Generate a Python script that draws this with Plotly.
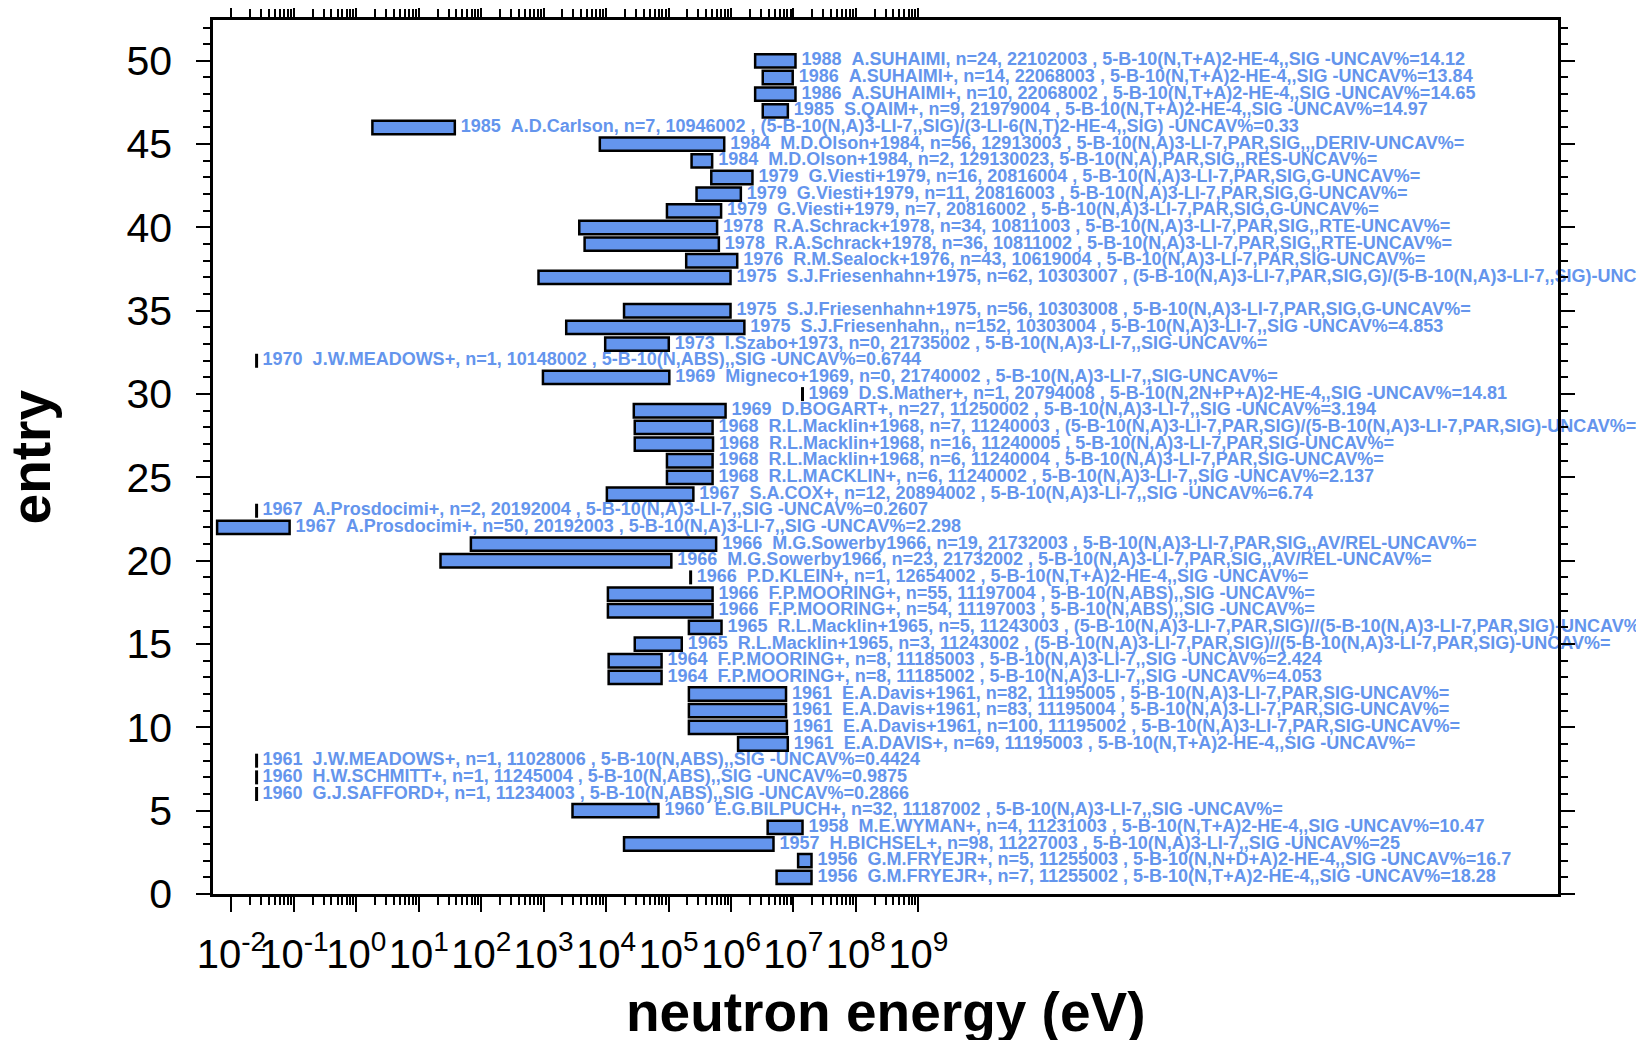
import plotly.graph_objects as go

# ---------------- data ----------------
entries = list(range(50, 0, -1))
entries.remove(36)

e_min = [2.44e6, 3.23e6, 2.44e6, 3.23e6, 1.81, 7.94e3, 2.34e5, 4.84e5, 2.81e5, 9.44e4,
         3.72e3, 4.53e3, 1.92e5, 828.0, 1.94e4, 2.30e3, 9.68e3, 0.0253, 975.0, 1.4e7,
         2.78e4, 2.88e4, 2.88e4, 9.44e4, 9.44e4, 1.03e4, 0.0253, 5.9e-3, 68.4, 22.3,
         2.26e5, 1.07e4, 1.07e4, 2.12e5, 2.88e4, 1.10e4, 1.10e4, 2.12e5, 2.12e5, 2.12e5,
         1.30e6, 0.0253, 0.0253, 0.0253, 2.90e3, 3.87e6, 1.94e4, 1.19e7, 5.38e6]
e_max = [1.08e7, 9.75e6, 1.08e7, 8.15e6, 37.8, 7.80e5, 5.0e5, 2.21e6, 1.44e6, 6.95e5,
         6.0e5, 6.4e5, 1.26e6, 9.84e5, 9.84e5, 1.64e6, 1.01e5, 0.0253, 1.03e5, 1.4e7,
         8.2e5, 5.08e5, 5.16e5, 5.08e5, 5.08e5, 2.5e5, 0.0253, 0.0855, 5.79e5, 1.11e5,
         2.26e5, 5.08e5, 5.08e5, 7.06e5, 1.63e5, 7.74e4, 7.74e4, 7.62e6, 7.62e6, 7.87e6,
         8.13e6, 0.0253, 0.0253, 0.0253, 6.9e4, 1.4e7, 4.8e6, 1.95e7, 1.95e7]

labels = [
    "1988  A.SUHAIMI, n=24, 22102003 , 5-B-10(N,T+A)2-HE-4,,SIG -UNCAV%=14.12",
    "1986  A.SUHAIMI+, n=14, 22068003 , 5-B-10(N,T+A)2-HE-4,,SIG -UNCAV%=13.84",
    "1986  A.SUHAIMI+, n=10, 22068002 , 5-B-10(N,T+A)2-HE-4,,SIG -UNCAV%=14.65",
    "1985  S.QAIM+, n=9, 21979004 , 5-B-10(N,T+A)2-HE-4,,SIG -UNCAV%=14.97",
    "1985  A.D.Carlson, n=7, 10946002 , (5-B-10(N,A)3-LI-7,,SIG)/(3-LI-6(N,T)2-HE-4,,SIG) -UNCAV%=0.33",
    "1984  M.D.Olson+1984, n=56, 12913003 , 5-B-10(N,A)3-LI-7,PAR,SIG,,,DERIV-UNCAV%=",
    "1984  M.D.Olson+1984, n=2, 129130023, 5-B-10(N,A),PAR,SIG,,RES-UNCAV%=",
    "1979  G.Viesti+1979, n=16, 20816004 , 5-B-10(N,A)3-LI-7,PAR,SIG,G-UNCAV%=",
    "1979  G.Viesti+1979, n=11, 20816003 , 5-B-10(N,A)3-LI-7,PAR,SIG,G-UNCAV%=",
    "1979  G.Viesti+1979, n=7, 20816002 , 5-B-10(N,A)3-LI-7,PAR,SIG,G-UNCAV%=",
    "1978  R.A.Schrack+1978, n=34, 10811003 , 5-B-10(N,A)3-LI-7,PAR,SIG,,RTE-UNCAV%=",
    "1978  R.A.Schrack+1978, n=36, 10811002 , 5-B-10(N,A)3-LI-7,PAR,SIG,,RTE-UNCAV%=",
    "1976  R.M.Sealock+1976, n=43, 10619004 , 5-B-10(N,A)3-LI-7,PAR,SIG-UNCAV%=",
    "1975  S.J.Friesenhahn+1975, n=62, 10303007 , (5-B-10(N,A)3-LI-7,PAR,SIG,G)/(5-B-10(N,A)3-LI-7,,SIG)-UNCAV%=",
    "1975  S.J.Friesenhahn+1975, n=56, 10303008 , 5-B-10(N,A)3-LI-7,PAR,SIG,G-UNCAV%=",
    "1975  S.J.Friesenhahn,, n=152, 10303004 , 5-B-10(N,A)3-LI-7,,SIG -UNCAV%=4.853",
    "1973  I.Szabo+1973, n=0, 21735002 , 5-B-10(N,A)3-LI-7,,SIG-UNCAV%=",
    "1970  J.W.MEADOWS+, n=1, 10148002 , 5-B-10(N,ABS),,SIG -UNCAV%=0.6744",
    "1969  Migneco+1969, n=0, 21740002 , 5-B-10(N,A)3-LI-7,,SIG-UNCAV%=",
    "1969  D.S.Mather+, n=1, 20794008 , 5-B-10(N,2N+P+A)2-HE-4,,SIG -UNCAV%=14.81",
    "1969  D.BOGART+, n=27, 11250002 , 5-B-10(N,A)3-LI-7,,SIG -UNCAV%=3.194",
    "1968  R.L.Macklin+1968, n=7, 11240003 , (5-B-10(N,A)3-LI-7,PAR,SIG)/(5-B-10(N,A)3-LI-7,PAR,SIG)-UNCAV%=",
    "1968  R.L.Macklin+1968, n=16, 11240005 , 5-B-10(N,A)3-LI-7,PAR,SIG-UNCAV%=",
    "1968  R.L.Macklin+1968, n=6, 11240004 , 5-B-10(N,A)3-LI-7,PAR,SIG-UNCAV%=",
    "1968  R.L.MACKLIN+, n=6, 11240002 , 5-B-10(N,A)3-LI-7,,SIG -UNCAV%=2.137",
    "1967  S.A.COX+, n=12, 20894002 , 5-B-10(N,A)3-LI-7,,SIG -UNCAV%=6.74",
    "1967  A.Prosdocimi+, n=2, 20192004 , 5-B-10(N,A)3-LI-7,,SIG -UNCAV%=0.2607",
    "1967  A.Prosdocimi+, n=50, 20192003 , 5-B-10(N,A)3-LI-7,,SIG -UNCAV%=2.298",
    "1966  M.G.Sowerby1966, n=19, 21732003 , 5-B-10(N,A)3-LI-7,PAR,SIG,,AV/REL-UNCAV%=",
    "1966  M.G.Sowerby1966, n=23, 21732002 , 5-B-10(N,A)3-LI-7,PAR,SIG,,AV/REL-UNCAV%=",
    "1966  P.D.KLEIN+, n=1, 12654002 , 5-B-10(N,T+A)2-HE-4,,SIG -UNCAV%=",
    "1966  F.P.MOORING+, n=55, 11197004 , 5-B-10(N,ABS),,SIG -UNCAV%=",
    "1966  F.P.MOORING+, n=54, 11197003 , 5-B-10(N,ABS),,SIG -UNCAV%=",
    "1965  R.L.Macklin+1965, n=5, 11243003 , (5-B-10(N,A)3-LI-7,PAR,SIG)//(5-B-10(N,A)3-LI-7,PAR,SIG)-UNCAV%=",
    "1965  R.L.Macklin+1965, n=3, 11243002 , (5-B-10(N,A)3-LI-7,PAR,SIG)//(5-B-10(N,A)3-LI-7,PAR,SIG)-UNCAV%=",
    "1964  F.P.MOORING+, n=8, 11185003 , 5-B-10(N,A)3-LI-7,,SIG -UNCAV%=2.424",
    "1964  F.P.MOORING+, n=8, 11185002 , 5-B-10(N,A)3-LI-7,,SIG -UNCAV%=4.053",
    "1961  E.A.Davis+1961, n=82, 11195005 , 5-B-10(N,A)3-LI-7,PAR,SIG-UNCAV%=",
    "1961  E.A.Davis+1961, n=83, 11195004 , 5-B-10(N,A)3-LI-7,PAR,SIG-UNCAV%=",
    "1961  E.A.Davis+1961, n=100, 11195002 , 5-B-10(N,A)3-LI-7,PAR,SIG-UNCAV%=",
    "1961  E.A.DAVIS+, n=69, 11195003 , 5-B-10(N,T+A)2-HE-4,,SIG -UNCAV%=",
    "1961  J.W.MEADOWS+, n=1, 11028006 , 5-B-10(N,ABS),,SIG -UNCAV%=0.4424",
    "1960  H.W.SCHMITT+, n=1, 11245004 , 5-B-10(N,ABS),,SIG -UNCAV%=0.9875",
    "1960  G.J.SAFFORD+, n=1, 11234003 , 5-B-10(N,ABS),,SIG -UNCAV%=0.2866",
    "1960  E.G.BILPUCH+, n=32, 11187002 , 5-B-10(N,A)3-LI-7,,SIG -UNCAV%=",
    "1958  M.E.WYMAN+, n=4, 11231003 , 5-B-10(N,T+A)2-HE-4,,SIG -UNCAV%=10.47",
    "1957  H.BICHSEL+, n=98, 11227003 , 5-B-10(N,A)3-LI-7,,SIG -UNCAV%=25",
    "1956  G.M.FRYEJR+, n=5, 11255003 , 5-B-10(N,N+D+A)2-HE-4,,SIG -UNCAV%=16.7",
    "1956  G.M.FRYEJR+, n=7, 11255002 , 5-B-10(N,T+A)2-HE-4,,SIG -UNCAV%=18.28",
]

x_tick_exponents = list(range(-2, 10))
y_tick_values = list(range(0, 51, 5))
x_title = "neutron energy (eV)"
y_title = "entry"

# ---------------- styling ----------------
BLUE = "#6495ED"
FONT = "Liberation Sans, Arial, Helvetica, sans-serif"

bar_y, bar_base, bar_len = [], [], []
line_x, line_y = [], []
for y, a, b in zip(entries, e_min, e_max):
    if b > a:
        bar_y.append(y)
        bar_base.append(a)
        bar_len.append(b - a)
    else:
        line_x += [a, a, None]
        line_y += [y - 0.42, y + 0.42, None]

fig = go.Figure()
fig.add_trace(go.Bar(
    orientation="h", y=bar_y, x=bar_len, base=bar_base, width=0.8,
    marker=dict(color=BLUE, line=dict(color="black", width=2.5)),
    hoverinfo="skip", showlegend=False,
))
fig.add_trace(go.Scatter(
    x=line_x, y=line_y, mode="lines",
    line=dict(color="black", width=3), hoverinfo="skip", showlegend=False,
))
fig.add_trace(go.Scatter(
    x=e_max, y=entries, mode="markers+text",
    text=[s.replace("  ", "\u00a0\u00a0") for s in labels],
    textposition="middle right",
    textfont=dict(color=BLUE, size=18, family=FONT, weight="bold"),
    marker=dict(size=8, color="rgba(0,0,0,0)"),
    cliponaxis=False, hoverinfo="skip", showlegend=False,
))

major_x = [10.0 ** e for e in x_tick_exponents]
minor_x = [k * 10.0 ** e for e in x_tick_exponents[:-1] for k in range(2, 10)]

fig.update_layout(
    width=1644, height=1040,
    margin=dict(l=205, r=94, t=12, b=154, autoexpand=False),
    plot_bgcolor="white", paper_bgcolor="white",
    font=dict(family=FONT, color="black"),
    xaxis=dict(
        type="log", range=[-2.295, 19.245], automargin=False,
        tickmode="array", tickvals=major_x,
        ticktext=[f"10<sup>{e}</sup>" for e in x_tick_exponents],
        tickangle=0, ticks="outside", ticklen=15, tickwidth=2, tickcolor="black",
        tickfont=dict(size=40, family=FONT), ticklabelstandoff=8,
        showline=True, linewidth=2.5, linecolor="black", mirror="allticks",
        showgrid=False, zeroline=False,
        minor=dict(tickmode="array", tickvals=minor_x, ticks="outside",
                   ticklen=8, tickwidth=1.5, tickcolor="black", showgrid=False),
    ),
    yaxis=dict(
        range=[0, 52.45], automargin=False,
        tickmode="array", tickvals=y_tick_values,
        ticks="outside", ticklen=14, tickwidth=2, tickcolor="black",
        tickfont=dict(size=41, family=FONT), ticklabelstandoff=16,
        showline=True, linewidth=2.5, linecolor="black", mirror="allticks",
        showgrid=False, zeroline=False,
        minor=dict(dtick=1, tick0=0, ticks="outside", ticklen=7, tickwidth=1.5,
                   tickcolor="black", showgrid=False),
    ),
    annotations=[
        dict(text=x_title, xref="paper", yref="paper", x=0.5, y=-0.135,
             xanchor="center", yanchor="middle", showarrow=False,
             font=dict(size=55, family=FONT, weight="bold", color="black")),
        dict(text=y_title, xref="paper", yref="paper", x=-0.135, y=0.5,
             xanchor="center", yanchor="middle", showarrow=False, textangle=-90,
             font=dict(size=55, family=FONT, weight="bold", color="black")),
    ],
)

fig.write_html("out.html")
